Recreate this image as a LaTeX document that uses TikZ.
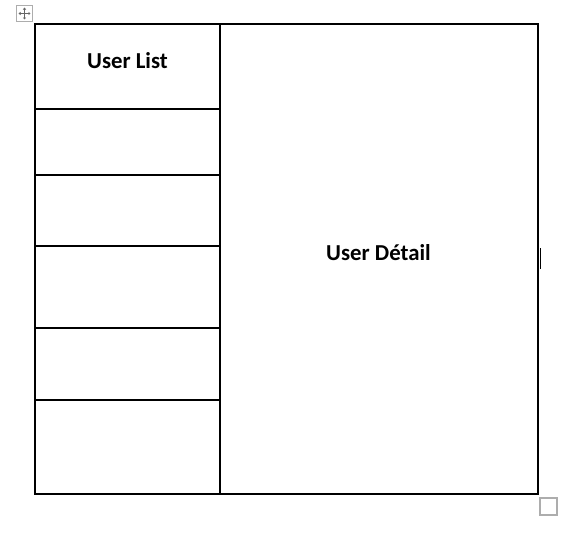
\documentclass[tikz,border=0pt]{standalone}
\usepackage{fontspec}
\setmainfont{Carlito}
\usetikzlibrary{arrows.meta}
\begin{document}
\begin{tikzpicture}[x=1pt,y=-1pt,
  grid/.style={line width=2pt,black},
  lbl/.style={font=\fontsize{22.8}{26}\selectfont\bfseries,inner sep=0pt},
  handle/.style={draw=black!32,line width=1.2pt},
  movearrow/.style={black!60,line width=0.8pt,{Triangle[length=2pt,width=3pt]}-{Triangle[length=2pt,width=3pt]}}]
\useasboundingbox (0,0) rectangle (574,547);
% table frame
\draw[grid] (35,24) rectangle (538,494);
\draw[grid] (220,24) -- (220,494);
\foreach \yy in {109,175,246,328,400} \draw[grid] (35,\yy) -- (220,\yy);
% labels
\node[lbl] (ul) at (127.5,61) {User List};
\node[lbl] (ud) at (378.5,253) {User Détail};
% cursor mark
\draw[line width=1pt] (540.5,248) -- (540.5,269);
% move handle
\draw[handle] (16.5,5.5) rectangle (32.5,21.5);
\draw[movearrow] (18.5,13.5) -- (30.5,13.5);
\draw[movearrow] (24.5,7.5) -- (24.5,19.5);
% resize handle
\draw[handle] (540,498) rectangle (557,515);
\end{tikzpicture}
\end{document}
